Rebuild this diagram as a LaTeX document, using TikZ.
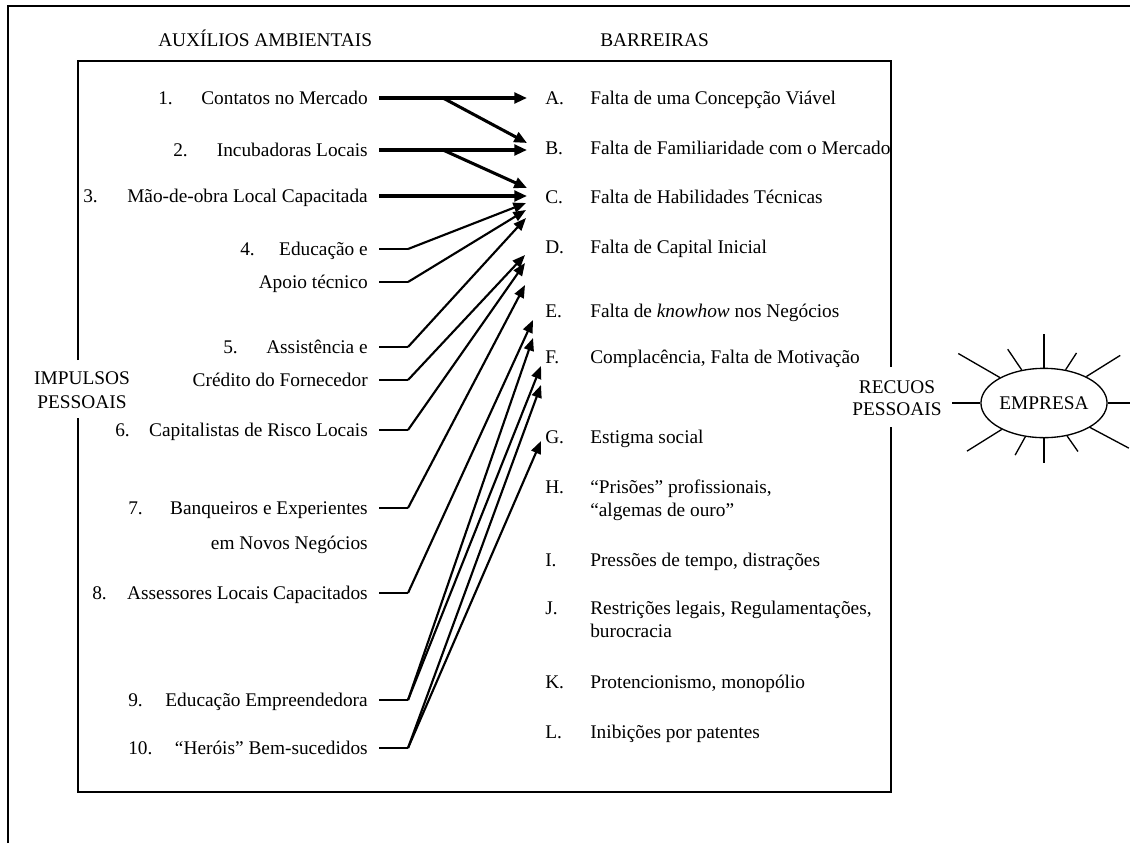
\documentclass[tikz,border=0pt]{standalone}
\usepackage{fontspec}
\setmainfont{Liberation Serif}
\usetikzlibrary{arrows.meta,shapes.geometric}

\begin{document}
\begin{tikzpicture}[x=0.75pt, y=-0.75pt,
  txt/.style={font=\fontsize{14.5}{17}\selectfont, inner sep=0pt},
  lft/.style={txt, anchor=base east},
  num/.style={txt, anchor=base west},
  rgt/.style={txt, anchor=base west},
  ctr/.style={txt, anchor=base},
  frame/.style={line width=1.5pt},
  main/.style={line width=2.3pt, -{Triangle[length=9.5pt,width=8pt]}},
  link/.style={line width=1.6pt, line join=round, -{Triangle[length=9.5pt,width=7.5pt]}},
  stub/.style={line width=1pt},
  ray/.style={line width=1pt},
]
\useasboundingbox (0,0) rectangle (1130,843);

% outer frame (top and left sides)
\draw[frame] (8,843) -- (8,6) -- (1130,6);

% inner box, open where the side labels sit
\draw[frame] (78,360) -- (78,61) -- (891,61) -- (891,367);
\draw[frame] (891,427) -- (891,792) -- (78,792) -- (78,418);

% headings
\node[txt, anchor=base west] (haux) at (158,46) {AUXÍLIOS AMBIENTAIS};
\node[txt, anchor=base west] (hbar) at (600,46) {BARREIRAS};

% side labels
\node[ctr] (imp1) at (82,384) {IMPULSOS};
\node[ctr] (imp2) at (82,408) {PESSOAIS};
\node[ctr] (rec1) at (897,393) {RECUOS};
\node[ctr] (rec2) at (897,415) {PESSOAIS};

% environmental aids
\node[num] (n1) at (158,104) {1.};
\node[lft] (t1) at (368,104) {Contatos no Mercado};
\node[num] (n2) at (173,156) {2.};
\node[lft] (t2) at (368,156) {Incubadoras Locais};
\node[num] (n3) at (83,202) {3.};
\node[lft] (t3) at (368,202) {Mão-de-obra Local Capacitada};
\node[num] (n4) at (240,255) {4.};
\node[lft] (t4) at (368,255) {Educação e};
\node[lft] (t4b) at (368,288) {Apoio técnico};
\node[num] (n5) at (223,353) {5.};
\node[lft] (t5) at (368,353) {Assistência e};
\node[lft] (t5b) at (368,386) {Crédito do Fornecedor};
\node[num] (n6) at (115,436) {6.};
\node[lft] (t6) at (368,436) {Capitalistas de Risco Locais};
\node[num] (n7) at (128,514) {7.};
\node[lft] (t7) at (368,514) {Banqueiros e Experientes};
\node[lft] (t7b) at (368,549) {em Novos Negócios};
\node[num] (n8) at (92,599) {8.};
\node[lft] (t8) at (368,599) {Assessores Locais Capacitados};
\node[num] (n9) at (128,706) {9.};
\node[lft] (t9) at (368,706) {Educação Empreendedora};
\node[num] (n10) at (128,754) {10.};
\node[lft] (t10) at (368,754) {“Heróis” Bem-sucedidos};

% barriers
\node[rgt] (lA) at (545,104) {A.};
\node[rgt] (bA) at (590,104) {Falta de uma Concepção Viável};
\node[rgt] (lB) at (545,154) {B.};
\node[rgt] (bB) at (590,154) {Falta de Familiaridade com o Mercado};
\node[rgt] (lC) at (545,203) {C.};
\node[rgt] (bC) at (590,203) {Falta de Habilidades Técnicas};
\node[rgt] (lD) at (545,253) {D.};
\node[rgt] (bD) at (590,253) {Falta de Capital Inicial};
\node[rgt] (lE) at (545,317) {E.};
\node[rgt] (bE) at (590,317) {Falta de \textit{knowhow} nos Negócios};
\node[rgt] (lF) at (545,363) {F.};
\node[rgt] (bF) at (590,363) {Complacência, Falta de Motivação};
\node[rgt] (lG) at (545,443) {G.};
\node[rgt] (bG) at (590,443) {Estigma social};
\node[rgt] (lH) at (545,493) {H.};
\node[rgt] (bH) at (590,493) {“Prisões” profissionais,};
\node[rgt] (bH2) at (590,516) {“algemas de ouro”};
\node[rgt] (lI) at (545,566) {I.};
\node[rgt] (bI) at (590,566) {Pressões de tempo, distrações};
\node[rgt] (lJ) at (545,614) {J.};
\node[rgt] (bJ) at (590,614) {Restrições legais, Regulamentações,};
\node[rgt] (bJ2) at (590,637) {burocracia};
\node[rgt] (lK) at (545,688) {K.};
\node[rgt] (bK) at (590,688) {Protencionismo, monopólio};
\node[rgt] (lL) at (545,738) {L.};
\node[rgt] (bL) at (590,738) {Inibições por patentes};

% line starts, bends and arrow tips
\coordinate (s1) at (379,98);  \coordinate (j1) at (443,98);
\coordinate (s2) at (379,150); \coordinate (j2) at (443,150);
\coordinate (s3) at (379,196);
\coordinate (s4) at (379,249);  \coordinate (k4) at (408,249);
\coordinate (s4b) at (379,282); \coordinate (k4b) at (408,282);
\coordinate (s5) at (379,347);  \coordinate (k5) at (408,347);
\coordinate (s5b) at (379,380); \coordinate (k5b) at (408,380);
\coordinate (s6) at (379,430);  \coordinate (k6) at (408,430);
\coordinate (s7) at (379,508);  \coordinate (k7) at (408,508);
\coordinate (s8) at (379,593);  \coordinate (k8) at (408,593);
\coordinate (s9) at (379,700);  \coordinate (k9) at (408,700);
\coordinate (s10) at (379,748); \coordinate (k10) at (408,748);

\coordinate (pA) at (527,98);
\coordinate (pB1) at (527,143);
\coordinate (pB2) at (527,150);
\coordinate (pC1) at (527,188);
\coordinate (pC0) at (527,196);
\coordinate (pC2) at (526,203);
\coordinate (pC3) at (526,210);
\coordinate (pC4) at (526,218);
\coordinate (pD1) at (525,255);
\coordinate (pD2) at (525,263);
\coordinate (pD3) at (525,285);
\coordinate (pE1) at (533,320);
\coordinate (pE2) at (533,338);
\coordinate (pF1) at (541,366);
\coordinate (pF2) at (541,385);
\coordinate (pG) at (541,441);

% direct links
\draw[main] (s1) -- (pA);
\draw[main] (j1) -- (pB1);
\draw[main] (s2) -- (pB2);
\draw[main] (j2) -- (pC1);
\draw[main] (s3) -- (pC0);

% stubs
\foreach \i in {4,4b,5,5b,6,7,8,9,10}
  \draw[stub] (s\i) -- (k\i);

% slanted links
\draw[link] (k4) -- (pC2);
\draw[link] (k4b) -- (pC3);
\draw[link] (k5) -- (pC4);
\draw[link] (k5b) -- (pD1);
\draw[link] (k6) -- (pD2);
\draw[link] (k7) -- (pD3);
\draw[link] (k8) -- (pE1);
\draw[link] (k9) -- (pE2);
\draw[link] (k9) -- (pF1);
\draw[link] (k10) -- (pF2);
\draw[link] (k10) -- (pG);

% the venture with its rays
\node[txt, draw, line width=1pt, ellipse, minimum width=86pt, minimum height=52pt] (emp) at (1044,403) {EMPRESA};
\foreach \a/\l in {0/26, 32/40, 57/20, 90/34, 124/25, 150/48, 180/28, 212/41, 241/21, 270/25, 305/19, 332/44}
  \draw[ray] (emp.\a) -- ++(\a:{\l*0.75pt});
\end{tikzpicture}
\end{document}
